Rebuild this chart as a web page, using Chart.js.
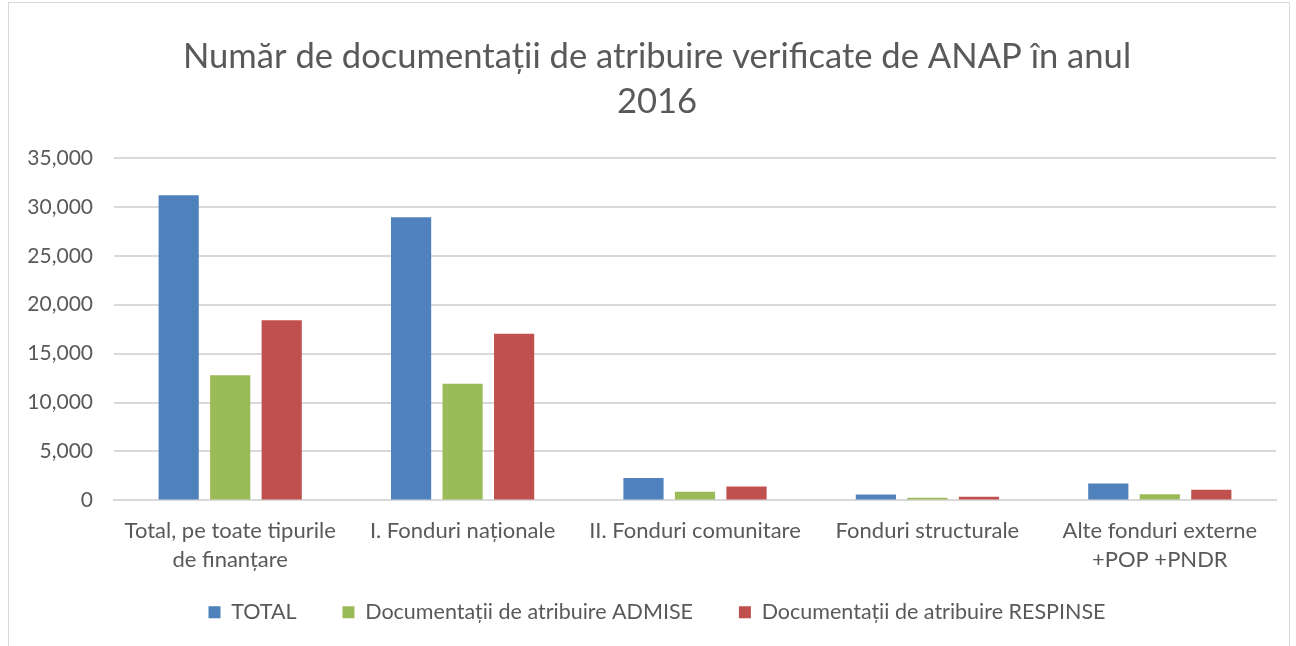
<!DOCTYPE html>
<html>
<head>
<meta charset="utf-8">
<script src="https://cdn.jsdelivr.net/npm/chart.js@4/dist/chart.umd.min.js"></script>
<style>
  html, body { margin: 0; padding: 0; background: #fff; }
  #wrap { position: absolute; left: 8px; top: 2px; width: 1282px; height: 660px; border: 1px solid #d9d9d9; box-sizing: border-box; }
  #box { position: absolute; left: 0; top: 0; width: 1296px; height: 646px; }
</style>
</head>
<body>
<div id="wrap"></div>
<div id="box"><canvas id="chart"></canvas></div>
<script>
// data
const categories = [
  ['Total, pe toate tipurile', 'de finanțare'],
  'I. Fonduri naționale',
  'II. Fonduri comunitare',
  'Fonduri structurale',
  ['Alte fonduri externe', '+POP +PNDR']
];
const totalValues = [31200, 28950, 2280, 600, 1720];
const admiseValues = [12780, 11920, 880, 270, 620];
const respinseValues = [18420, 17030, 1420, 380, 1080];
const yTicks = [0, 5000, 10000, 15000, 20000, 25000, 30000, 35000];

const grey = '#595959';
const fontFamily = 'Lato, "Open Sans", sans-serif';

let ctx = document.querySelector('#chart').getContext('2d');

new Chart(ctx, {
  type: 'bar',
  data: {
    labels: categories,
    datasets: [
      { label: 'TOTAL', data: totalValues, backgroundColor: '#4f81bd' },
      { label: 'Documentații de atribuire ADMISE', data: admiseValues, backgroundColor: '#9bbb59' },
      { label: 'Documentații de atribuire RESPINSE', data: respinseValues, backgroundColor: '#c0504d' }
    ]
  },
  options: {
    responsive: true,
    maintainAspectRatio: false,
    animation: false,
    layout: { padding: { left: 10, right: -8, top: 34, bottom: 13 } },
    datasets: { bar: { categoryPercentage: 0.665, barPercentage: 0.78 } },
    plugins: {
      title: {
        display: true,
        text: ['Număr de documentații de atribuire verificate de ANAP în anul', '2016'],
        color: grey,
        font: { family: fontFamily, size: 34.6, weight: 'normal', lineHeight: 1.3 },
        padding: { top: 0, bottom: 34 }
      },
      legend: {
        position: 'bottom',
        labels: {
          color: grey,
          font: { family: fontFamily, size: 21.5 },
          boxWidth: 12,
          boxHeight: 12,
          padding: 19,
          // extra room between the legend items
          generateLabels: (chart) => {
            let items = Chart.defaults.plugins.legend.labels.generateLabels(chart);
            items.forEach((it, i) => { if (i < items.length - 1) it.text += '\u2003\u2002'; });
            return items;
          }
        }
      },
      tooltip: { enabled: false }
    },
    scales: {
      x: {
        grid: { display: false },
        border: { color: '#d9d9d9', width: 2 },
        ticks: { color: grey, font: { family: fontFamily, size: 22, lineHeight: 1.32 }, maxRotation: 0, padding: 8 }
      },
      y: {
        min: yTicks[0],
        max: yTicks[yTicks.length - 1],
        afterBuildTicks: (axis) => { axis.ticks = yTicks.map(v => ({ value: v })); },
        afterFit: (axis) => { axis.width = 104; },
        grid: { color: '#d9d9d9', lineWidth: 2, drawTicks: false },
        border: { display: false },
        ticks: { color: grey, font: { family: fontFamily, size: 21 }, padding: 21,
          callback: (v) => v.toLocaleString('en-US') }
      },
      // empty right-hand gutter
      gutter: {
        type: 'linear',
        position: 'right',
        grid: { display: false },
        border: { display: false },
        ticks: { display: false },
        afterFit: (axis) => { axis.width = 28; }
      }
    }
  }
});
</script>
</body>
</html>
